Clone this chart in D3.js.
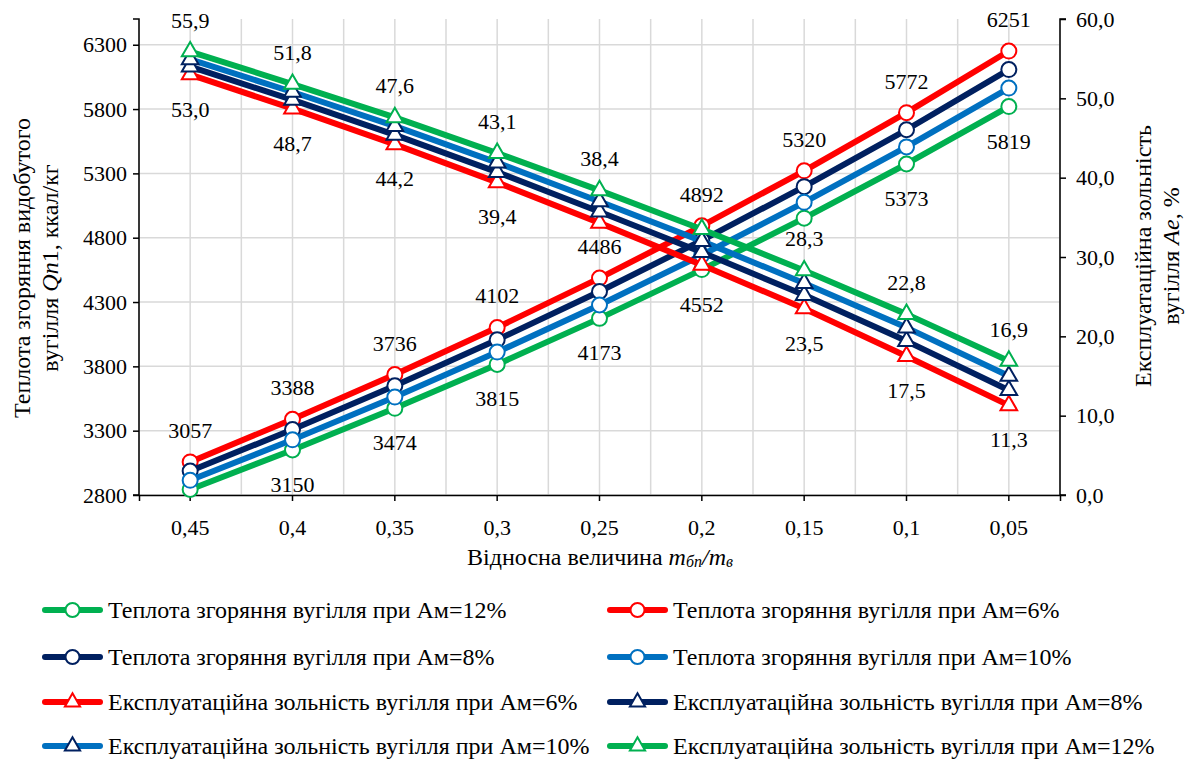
<!DOCTYPE html>
<html>
<head>
<meta charset="utf-8">
<script src="https://cdn.jsdelivr.net/npm/d3@7"></script>
<style>
  html, body { margin: 0; padding: 0; background: #fff; }
  svg { display: block; }
</style>
</head>
<body>
<svg id="chart" width="1196" height="761" font-family="Liberation Serif"></svg>
<script>
// Relative value m_bp / m_v along the x axis
const categories = ["0,45", "0,4", "0,35", "0,3", "0,25", "0,2", "0,15", "0,1", "0,05"];

// Heat of combustion Qn1, kcal/kg (left axis)
const heat6  = [3057, 3388, 3736, 4102, 4486, 4892, 5320, 5772, 6251];
const heat8  = [2986, 3309, 3649, 4006, 4382, 4779, 5197, 5639, 6107];
const heat10 = [2914, 3229, 3561, 3911, 4277, 4665, 5075, 5506, 5963];
const heat12 = [2843, 3150, 3474, 3815, 4173, 4552, 4952, 5373, 5819];

// Operational ash content Ae, % (right axis)
const ash6  = [53.0, 48.7, 44.2, 39.4, 34.3, 29.0, 23.5, 17.5, 11.3];
const ash8  = [54.0, 49.8, 45.4, 40.7, 35.7, 30.6, 25.2, 19.4, 13.2];
const ash10 = [54.9, 50.8, 46.5, 41.9, 37.0, 32.0, 26.7, 21.1, 15.0];
const ash12 = [55.9, 51.8, 47.6, 43.1, 38.4, 33.5, 28.3, 22.8, 16.9];

// Axis ticks
const leftTicks  = [2800, 3300, 3800, 4300, 4800, 5300, 5800, 6300];
const rightTicks = [0, 10, 20, 30, 40, 50, 60];

// Points that carry a value label
const heat6Labelled  = [0, 1, 2, 3, 4, 5, 6, 7, 8];
const heat12Labelled = [1, 2, 3, 4, 5, 7, 8];
const ash12Labelled  = [0, 1, 2, 3, 4, 6, 7, 8];
const ash6Labelled   = [0, 1, 2, 3, 6, 7, 8];

const C = { red: "#FF0000", navy: "#002060", blue: "#0070C0", green: "#00B050" };
const FONT = "Liberation Serif";
const fontSize = 22;   // ticks and value labels
const titleSize = 24;  // axis titles and legend

const series = [
  { name: "Теплота згоряння вугілля при Ам=12%", values: heat12, axis: "left",  color: C.green, marker: "circle",   markerStroke: C.green },
  { name: "Теплота згоряння вугілля при Ам=6%",  values: heat6,  axis: "left",  color: C.red,   marker: "circle",   markerStroke: C.red },
  { name: "Теплота згоряння вугілля при Ам=8%",  values: heat8,  axis: "left",  color: C.navy,  marker: "circle",   markerStroke: C.navy },
  { name: "Теплота згоряння вугілля при Ам=10%", values: heat10, axis: "left",  color: C.blue,  marker: "circle",   markerStroke: C.blue },
  { name: "Експлуатаційна зольність вугілля при Ам=6%",  values: ash6,  axis: "right", color: C.red,   marker: "triangle", markerStroke: C.red },
  { name: "Експлуатаційна зольність вугілля при Ам=8%",  values: ash8,  axis: "right", color: C.navy,  marker: "triangle", markerStroke: C.navy },
  { name: "Експлуатаційна зольність вугілля при Ам=10%", values: ash10, axis: "right", color: C.blue,  marker: "triangle", markerStroke: C.navy },
  { name: "Експлуатаційна зольність вугілля при Ам=12%", values: ash12, axis: "right", color: C.green, marker: "triangle", markerStroke: C.green }
];

const svg = d3.select("#chart");
const plot = { left: 139, right: 1060, top: 19, bottom: 495 };

const x = d3.scaleBand().domain(categories).range([plot.left, plot.right]).paddingInner(0).paddingOuter(0);
const yL = d3.scaleLinear().domain([2800, 6500]).range([plot.bottom, plot.top]);
const yR = d3.scaleLinear().domain([0, 60]).range([plot.bottom, plot.top]);
const cx = c => x(c) + x.bandwidth() / 2;
const commaFmt = f => v => d3.format(f)(v).replace(".", ",");

// Grid: vertical lines at category centres and boundaries, horizontal at left ticks
const grid = svg.append("g").attr("stroke", "#d9d9d9").attr("stroke-width", 1.5);
const vx = [];
categories.forEach(c => { vx.push(x(c)); vx.push(cx(c)); });
vx.push(plot.right);
grid.selectAll("line.v").data(vx).join("line")
  .attr("x1", d => d).attr("x2", d => d).attr("y1", plot.top).attr("y2", plot.bottom);
grid.selectAll("line.h").data(leftTicks).join("line")
  .attr("x1", plot.left).attr("x2", plot.right).attr("y1", d => yL(d)).attr("y2", d => yL(d));

// Axes
const axL = svg.append("g").attr("transform", `translate(${plot.left},0)`)
  .call(d3.axisLeft(yL).tickValues(leftTicks).tickSize(6).tickPadding(6).tickFormat(d3.format("d")));
const axR = svg.append("g").attr("transform", `translate(${plot.right},0)`)
  .call(d3.axisRight(yR).tickValues(rightTicks).tickSize(6).tickPadding(10).tickFormat(commaFmt(".1f")));
const axB = svg.append("g").attr("transform", `translate(0,${plot.bottom})`)
  .call(d3.axisBottom(x).tickSize(6).tickPadding(18));
[axL, axR, axB].forEach(a => {
  a.attr("font-family", FONT).attr("font-size", fontSize);
  a.select(".domain").attr("stroke", "#000").attr("stroke-width", 1.5);
  a.selectAll(".tick line").attr("stroke", "#000").attr("stroke-width", 1.5);
  a.selectAll(".tick text").attr("fill", "#000");
});
axL.select(".domain").attr("d", `M-6,${plot.top}H0V${plot.bottom}H-6`);
axR.select(".domain").attr("d", `M6,${plot.top}H0V${plot.bottom}H6`);

// Series lines and markers
const lineGen = (scale) => d3.line().x((d, i) => cx(categories[i])).y(d => scale(d));
const triangle = d3.symbol().type(d3.symbolTriangle).size(120);

series.forEach(s => {
  const scale = s.axis === "left" ? yL : yR;
  const g = svg.append("g");
  g.append("path").datum(s.values).attr("d", lineGen(scale))
    .attr("fill", "none").attr("stroke", s.color).attr("stroke-width", 6).attr("stroke-linejoin", "round");
  if (s.marker === "circle") {
    g.selectAll("circle").data(s.values).join("circle")
      .attr("cx", (d, i) => cx(categories[i])).attr("cy", d => scale(d)).attr("r", 7.5)
      .attr("fill", "#fff").attr("stroke", s.markerStroke).attr("stroke-width", 2);
  } else {
    g.selectAll("path.m").data(s.values).join("path").attr("class", "m")
      .attr("d", triangle)
      .attr("transform", (d, i) => `translate(${cx(categories[i])},${scale(d)})`)
      .attr("fill", "#fff").attr("stroke", s.markerStroke).attr("stroke-width", 2);
  }
});

// Value labels
const labels = svg.append("g").attr("font-size", fontSize).attr("font-family", FONT)
  .attr("text-anchor", "middle").attr("fill", "#000");
function addLabels(values, idx, scale, fmt, above) {
  labels.selectAll(null).data(idx).join("text")
    .attr("x", i => cx(categories[i]))
    .attr("y", i => scale(values[i]) + (above ? -24 : 42))
    .text(i => fmt(values[i]));
}
addLabels(heat6, heat6Labelled, yL, d3.format("d"), true);
addLabels(heat12, heat12Labelled, yL, d3.format("d"), false);
addLabels(ash12, ash12Labelled, yR, commaFmt(".1f"), true);
addLabels(ash6, ash6Labelled, yR, commaFmt(".1f"), false);

// Axis titles
const lt = svg.append("text").attr("transform", "translate(0,268) rotate(-90)")
  .attr("text-anchor", "middle").attr("font-size", titleSize);
lt.append("tspan").attr("x", 0).attr("y", 30).text("Теплота згоряння видобутого");
const lt2 = lt.append("tspan").attr("x", 0).attr("y", 58);
lt2.append("tspan").text("вугілля ");
lt2.append("tspan").attr("font-style", "italic").text("Qn");
lt2.append("tspan").text("1, ккал/кг");

const rt = svg.append("text").attr("transform", "translate(0,256) rotate(-90)")
  .attr("text-anchor", "middle").attr("font-size", titleSize);
rt.append("tspan").attr("x", 0).attr("y", 1151).text("Експлуатаційна зольність");
const rt2 = rt.append("tspan").attr("x", 0).attr("y", 1179);
rt2.append("tspan").text("вугілля ");
rt2.append("tspan").attr("font-style", "italic").text("Ae");
rt2.append("tspan").text(", %");

const xt = svg.append("text").attr("x", 600).attr("y", 565).attr("text-anchor", "middle").attr("font-size", titleSize);
xt.append("tspan").text("Відносна величина ");
xt.append("tspan").attr("font-style", "italic").text("m");
xt.append("tspan").attr("font-style", "italic").attr("font-size", 16).attr("dy", 2).text("бп");
xt.append("tspan").attr("font-style", "italic").attr("dy", -2).text("/m");
xt.append("tspan").attr("font-style", "italic").attr("font-size", 16).attr("dy", 2).text("в");

// Legend: two columns, four rows
const legendRows = [610, 657, 702, 746];
const legendCols = [45, 610];
const legend = svg.append("g");
series.forEach((s, k) => {
  const row = Math.floor(k / 2), col = k % 2;
  const lx = legendCols[col], ly = legendRows[row];
  const g = legend.append("g").attr("transform", `translate(${lx},${ly})`);
  g.append("line").attr("x1", 0).attr("x2", 55).attr("y1", 0).attr("y2", 0)
    .attr("stroke", s.color).attr("stroke-width", 6).attr("stroke-linecap", "round");
  if (s.marker === "circle") {
    g.append("circle").attr("cx", 27.5).attr("cy", 0).attr("r", 7)
      .attr("fill", "#fff").attr("stroke", s.markerStroke).attr("stroke-width", 2);
  } else {
    g.append("path").attr("d", d3.symbol().type(d3.symbolTriangle).size(100)())
      .attr("transform", "translate(27.5,0)")
      .attr("fill", "#fff").attr("stroke", s.markerStroke).attr("stroke-width", 2);
  }
  g.append("text").attr("x", 63).attr("y", 8).attr("font-size", titleSize).text(s.name);
});

// One serif face for every piece of text
svg.selectAll("text").attr("font-family", FONT);
</script>
</body>
</html>
